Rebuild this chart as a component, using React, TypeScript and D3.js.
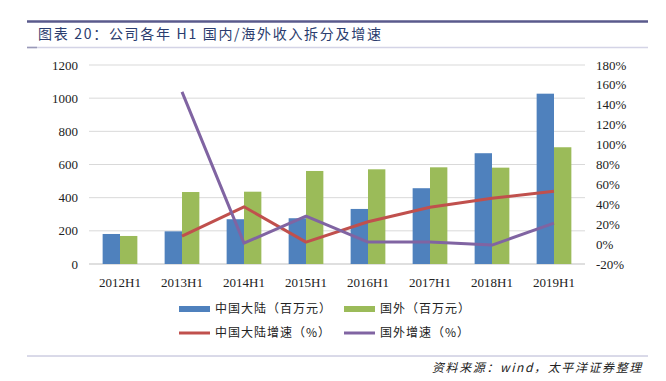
import React from "react";
import * as d3 from "d3";

const categories = ["2012H1", "2013H1", "2014H1", "2015H1", "2016H1", "2017H1", "2018H1", "2019H1"];
const mainland = [181, 197, 270, 276, 332, 457, 668, 1027];
const overseas = [169, 434, 436, 561, 571, 583, 581, 704];
const mainlandGrowth: (number | null)[] = [null, 8, 37.5, 2, 22.5, 37, 46, 53];
const overseasGrowth: (number | null)[] = [null, 153, 1, 28, 2, 2, -1, 21];
const leftTicks = [0, 200, 400, 600, 800, 1000, 1200];
const rightTicks = [-20, 0, 20, 40, 60, 80, 100, 120, 140, 160, 180];

const W = 666, H = 381;
const plot = { left: 89, right: 585, top: 65, bottom: 264 };
const COLORS = { blue: "#4F81BD", green: "#9BBB59", red: "#C0504D", purple: "#8064A2" };

export default function App() {
  const x = d3.scaleBand<string>().domain(categories).range([plot.left, plot.right]).paddingInner(0.44).paddingOuter(0.22);
  const bw = x.bandwidth() / 2;
  const yL = d3.scaleLinear().domain([0, 1200]).range([plot.bottom, plot.top]);
  const yR = d3.scaleLinear().domain([-20, 180]).range([plot.bottom, plot.top]);
  const cx = (c: string) => (x(c) as number) + x.bandwidth() / 2;

  const line = d3
    .line<number | null>()
    .defined((d) => d !== null)
    .x((_, i) => cx(categories[i]))
    .y((d) => yR(d as number));

  const serif = "'Liberation Serif', 'Times New Roman', serif";
  const cjk = "'Noto Sans CJK SC', sans-serif";

  return (
    <svg width={W} height={H} style={{ position: "absolute", left: 0, top: 0, background: "#fff" }}>
      {/* header */}
      <line x1={27} x2={648} y1={21.5} y2={21.5} stroke="#5a5a8c" strokeWidth={2.5} />
      <text x={38} y={39} fontFamily={cjk} fontSize={14} fill="#2a3c6e" letterSpacing={1.7}>
        图表 20：公司各年 H1 国内/海外收入拆分及增速
      </text>
      <line x1={27} x2={648} y1={47.5} y2={47.5} stroke="#d4d4e6" strokeWidth={1.5} />
      <line x1={27} x2={37} y1={47.5} y2={47.5} stroke="#9a9ab8" strokeWidth={1.5} />

      {/* gridlines */}
      {leftTicks.map((t) => (
        <line key={t} x1={plot.left} x2={plot.right} y1={yL(t)} y2={yL(t)} stroke={t === 0 ? "#bfbfbf" : "#d9d9d9"} strokeWidth={1} />
      ))}

      {/* left axis labels */}
      {leftTicks.map((t) => (
        <text key={t} x={78} y={yL(t)} dy="0.35em" textAnchor="end" fontFamily={serif} fontSize={13} fill="#222">
          {t}
        </text>
      ))}
      {/* right axis labels */}
      {rightTicks.map((t) => (
        <text key={t} x={596} y={yR(t)} dy="0.35em" textAnchor="start" fontFamily={serif} fontSize={13} fill="#222">
          {t}%
        </text>
      ))}

      {/* bars */}
      {categories.map((c, i) => (
        <g key={c}>
          <rect x={x(c)} y={yL(mainland[i])} width={bw} height={yL(0) - yL(mainland[i])} fill={COLORS.blue} />
          <rect x={(x(c) as number) + bw} y={yL(overseas[i])} width={bw} height={yL(0) - yL(overseas[i])} fill={COLORS.green} />
        </g>
      ))}

      {/* x labels */}
      {categories.map((c) => (
        <text key={c} x={cx(c)} y={282} dy="0.35em" textAnchor="middle" fontFamily={serif} fontSize={13} fill="#222">
          {c}
        </text>
      ))}

      {/* lines */}
      <path d={line(mainlandGrowth) || ""} fill="none" stroke={COLORS.red} strokeWidth={3} strokeLinejoin="round" />
      <path d={line(overseasGrowth) || ""} fill="none" stroke={COLORS.purple} strokeWidth={3} strokeLinejoin="round" />

      {/* legend */}
      <rect x={179} y={306} width={31} height={6} fill={COLORS.blue} />
      <text x={215} y={309} dy="0.35em" fontFamily={cjk} fontSize={12} letterSpacing={1} fill="#222">中国大陆（百万元）</text>
      <rect x={344} y={306} width={31} height={6} fill={COLORS.green} />
      <text x={380} y={309} dy="0.35em" fontFamily={cjk} fontSize={12} letterSpacing={1} fill="#222">国外（百万元）</text>
      <line x1={179} x2={210} y1={333} y2={333} stroke={COLORS.red} strokeWidth={3} />
      <text x={215} y={333} dy="0.35em" fontFamily={cjk} fontSize={12} letterSpacing={1} fill="#222">中国大陆增速（%）</text>
      <line x1={344} x2={375} y1={333} y2={333} stroke={COLORS.purple} strokeWidth={3} />
      <text x={380} y={333} dy="0.35em" fontFamily={cjk} fontSize={12} letterSpacing={1} fill="#222">国外增速（%）</text>

      {/* footer */}
      <line x1={27} x2={648} y1={356} y2={356} stroke="#b4b4d2" strokeWidth={1} />
      <text x={432} y={368} dy="0.35em" textAnchor="start" fontFamily={cjk} fontSize={12} fontStyle="italic" fill="#222" letterSpacing={1.6}>
        资料来源：wind，太平洋证券整理
      </text>
    </svg>
  );
}
